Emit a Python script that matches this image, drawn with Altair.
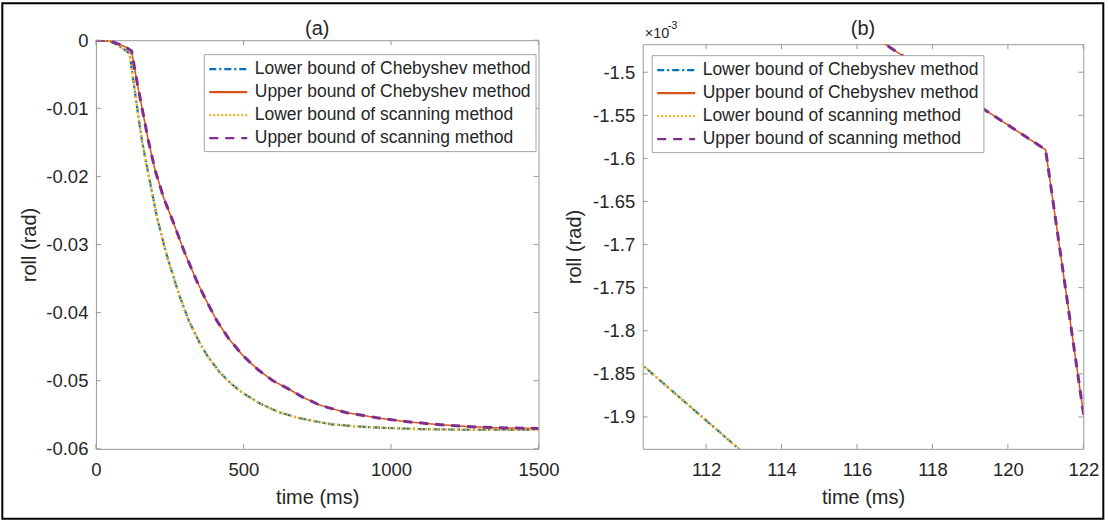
import altair as alt
import pandas as pd

# Roll-angle bounds (rad) against time (ms). The Chebyshev and scanning
# bounds coincide, so each bound pair shares one time/roll record.
lower_time = [0, 20, 40, 60, 80, 100, 110, 114, 130, 145, 157, 175, 207, 240,
              283, 316, 350, 377, 420, 460, 498, 550, 613, 680, 735, 800, 880,
              962, 1100, 1250, 1500]
lower_roll = [0, -0.00001, -0.00012, -0.00040, -0.00090, -0.00148, -0.001828,
              -0.001980, -0.0069, -0.0115, -0.0150, -0.0190, -0.0260, -0.0316,
              -0.0375, -0.0413, -0.0443, -0.0463, -0.0488, -0.0505, -0.0518,
              -0.0532, -0.0545, -0.0554, -0.0559, -0.0564, -0.0567, -0.0569,
              -0.0571, -0.0572, -0.0572]

upper_time = [0, 20, 40, 60, 80, 100, 116, 121, 122, 140, 160, 177, 200, 230,
              261, 300, 340, 370, 410, 450, 498, 550, 600, 657, 700, 759, 850,
              962, 1050, 1150, 1250, 1350, 1500]
upper_roll = [0, -0.00001, -0.00010, -0.00030, -0.00062, -0.00098, -0.001446,
              -0.00159, -0.001895, -0.0063, -0.0108, -0.0146, -0.0190, -0.0232,
              -0.0266, -0.0311, -0.0352, -0.0379, -0.0412, -0.0438, -0.0463,
              -0.0484, -0.0500, -0.0513, -0.0524, -0.0536, -0.0547, -0.0555,
              -0.0560, -0.0564, -0.0567, -0.0569, -0.0570]

series_names = ["Lower bound of Chebyshev method",
                "Upper bound of Chebyshev method",
                "Lower bound of scanning method",
                "Upper bound of scanning method"]
series_colors = ["#0072BD", "#D95319", "#EDB120", "#7E2F8E"]
series_dashes = [[7, 3, 2, 3], [1, 0], [2, 2], [9, 7]]
series_widths = [2.2, 1.5, 2.5, 3.0]

x_ticks_a = [0, 500, 1000, 1500]
y_ticks_a = [0, -0.01, -0.02, -0.03, -0.04, -0.05, -0.06]
x_domain_a = [0, 1500]
y_domain_a = [-0.06, 0]

x_ticks_b = [112, 114, 116, 118, 120, 122]
y_ticks_b = [-0.00150, -0.00155, -0.00160, -0.00165, -0.00170, -0.00175,
             -0.00180, -0.00185, -0.00190]
x_domain_b = [110.32, 122]
y_domain_b = [-0.001937, -0.0014675]

FONT = "Liberation Sans"
TEXT = "#262626"
BOX = "#999999"

W_A, H_A = 443, 409
W_B, H_B = 441, 405

rows = []
for name, (t, r) in zip(series_names, [(lower_time, lower_roll), (upper_time, upper_roll),
                                        (lower_time, lower_roll), (upper_time, upper_roll)]):
    for ti, ri in zip(t, r):
        rows.append({"series": name, "time": ti, "roll": ri})
curves_df = pd.DataFrame(rows)
one_row = pd.DataFrame({"exp": ["×10"], "pow": ["-3"]})


def panel(title, xdom, ydom, xticks, yticks, xfmt, ylabel_expr, W, H,
          ytitle_x, legend_x, legend_y, title_offset):
    # legend keys: a 38 px line segment drawn from the entry's left edge
    legend = alt.Legend(orient="none", legendX=legend_x, legendY=legend_y,
                        title=None, fillColor="white", strokeColor="#a6a6a6",
                        padding=4, symbolType="M-1,0H3", symbolSize=361,
                        symbolStrokeWidth=2.2,
                        labelFont=FONT, labelFontSize=17.5, labelColor=TEXT,
                        labelOffset=25, rowPadding=3, labelLimit=400)
    x_enc = alt.X("time:Q", scale=alt.Scale(domain=xdom, nice=False, zero=False),
                  axis=alt.Axis(values=xticks, format=xfmt, title="time (ms)",
                                titleY=55, titleBaseline="alphabetic",
                                labelPadding=12, labelFlush=False))
    y_enc = alt.Y("roll:Q", scale=alt.Scale(domain=ydom, nice=False, zero=False),
                  axis=alt.Axis(values=yticks, labelExpr=ylabel_expr,
                                title="roll (rad)", titleX=ytitle_x, titleY=H / 2,
                                titleBaseline="alphabetic", titleAlign="center",
                                titleAngle=270, labelPadding=8, labelFlush=False))
    style = dict(
        color=alt.Color("series:N", scale=alt.Scale(domain=series_names, range=series_colors),
                        legend=legend),
        strokeDash=alt.StrokeDash("series:N",
                                  scale=alt.Scale(domain=series_names, range=series_dashes),
                                  legend=legend),
    )
    # one layer per series so the drawing order follows the legend order
    curve_layers = [
        alt.Chart(curves_df).transform_filter(alt.datum.series == name)
        .mark_line(clip=True, strokeWidth=width).encode(x=x_enc, y=y_enc, **style)
        for name, width in zip(series_names, series_widths)
    ]
    xt = pd.DataFrame({"time": xticks})
    yt = pd.DataFrame({"roll": yticks})
    rule = dict(color=BOX, strokeWidth=1)
    tick_bottom = alt.Chart(xt).mark_rule(**rule).encode(
        x=x_enc, y=alt.value(H), y2=alt.value(H - 5))
    tick_top = alt.Chart(xt).mark_rule(**rule).encode(
        x=x_enc, y=alt.value(0), y2=alt.value(5))
    tick_left = alt.Chart(yt).mark_rule(**rule).encode(
        y=y_enc, x=alt.value(0), x2=alt.value(5))
    tick_right = alt.Chart(yt).mark_rule(**rule).encode(
        y=y_enc, x=alt.value(W), x2=alt.value(W - 5))
    return alt.layer(*curve_layers, tick_bottom, tick_top, tick_left, tick_right).properties(
        width=W, height=H,
        title=alt.TitleParams(title, fontSize=20, font=FONT, fontWeight="normal",
                              color=TEXT, offset=title_offset, frame="group"),
    )


ylabels_a = "replace(format(datum.value, '.2~f'), '\u2212', '-')"
ylabels_b = "replace(format(datum.value * 1000, '.2~f'), '\u2212', '-')"

panel_a = panel("(a)", x_domain_a, y_domain_a, x_ticks_a, y_ticks_a, "d", ylabels_a,
                W_A, H_A, -60.7, 108, 14, -8)

panel_b = panel("(b)", x_domain_b, y_domain_b, x_ticks_b, y_ticks_b, "d", ylabels_b,
                W_B, H_B, -62, 9, 15, 5)

# Strip above panel (b): carries the axis exponent and the outer figure frame
frame = alt.Chart(one_row).mark_rect(filled=False, stroke="black", strokeWidth=2).encode(
    x=alt.value(-641), x2=alt.value(461), y=alt.value(-37), y2=alt.value(479))
exp_base = alt.Chart(one_row).mark_text(align="left", baseline="alphabetic", font=FONT,
                                        fontSize=14.5, color=TEXT).encode(
    text="exp:N", x=alt.value(2), y=alt.value(-2))
exp_pow = alt.Chart(one_row).mark_text(align="left", baseline="alphabetic", font=FONT,
                                       fontSize=11, color=TEXT).encode(
    text="pow:N", x=alt.value(25), y=alt.value(-11.5))

strip = alt.layer(frame, exp_base, exp_pow).properties(
    width=W_B, height=4, view=alt.ViewBackground(strokeOpacity=0))

right = alt.vconcat(strip, panel_b, spacing=0, bounds="flush")

chart = alt.hconcat(panel_a, right, spacing=104.3, bounds="flush").resolve_scale(
    color="independent", strokeDash="independent"
).properties(
    padding={"left": 1, "top": 2, "right": 3, "bottom": 1},
    background="white",
).configure_view(
    stroke=BOX, strokeWidth=1
).configure_axis(
    labelFont=FONT, labelFontSize=18.5, labelColor=TEXT,
    titleFont=FONT, titleFontSize=20, titleFontWeight="normal", titleColor=TEXT,
    domain=False, ticks=False, tickSize=0, grid=False,
)

chart.save("out.html", embed_options={"renderer": "svg", "actions": False})
